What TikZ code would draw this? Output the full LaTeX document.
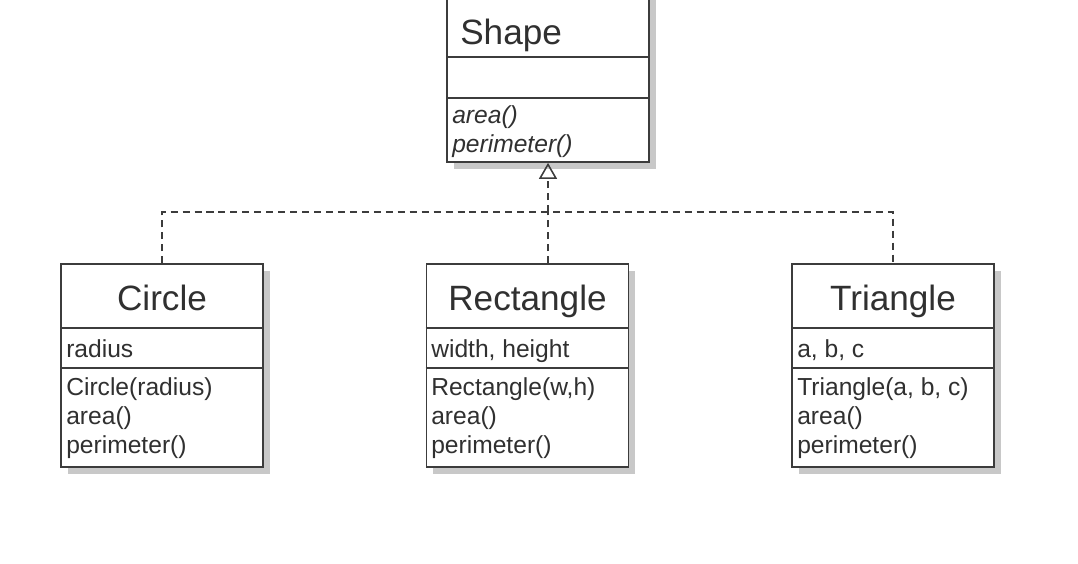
\documentclass[tikz,border=0pt]{standalone}
\usepackage{fontspec}
\setmainfont{Liberation Sans}
\usetikzlibrary{arrows.meta,shadows}
\definecolor{umlline}{HTML}{3C3C3C}
\definecolor{umltext}{HTML}{303030}
\definecolor{shadowgray}{HTML}{C8C8C8}

\begin{document}
\begin{tikzpicture}[x=0.025cm, y=-0.025cm,
    classbox/.style={rectangle, draw=umlline, line width=1.2pt, fill=white, minimum width=5.05cm, inner sep=0pt,
        drop shadow={shadow xshift=0.17cm, shadow yshift=-0.17cm, fill=shadowgray, opacity=1}},
    divider/.style={draw=umlline, line width=1.1pt},
    titletext/.style={font=\fontsize{25}{30}\selectfont, text=umltext, inner sep=0pt, anchor=base},
    membertext/.style={font=\fontsize{17.5}{21}\selectfont, text=umltext, inner sep=0pt, anchor=base west},
    realization/.style={draw=umlline, line width=1.1pt, dash pattern=on 5pt off 3.5pt}]
    \clip (0,0) rectangle (1078,564);
    \fill[white] (0,0) rectangle (1078,564);

    % interface
    \node[classbox, minimum height=4.25cm] (shape) at (548,77) {};
    \draw[divider] (shape.west |- 0,57) -- (shape.east |- 0,57);
    \draw[divider] (shape.west |- 0,98) -- (shape.east |- 0,98);
    \node[titletext, anchor=base west] (shapename) at (460,45) {Shape};
    \node[membertext, font=\fontsize{17.5}{21}\selectfont\itshape] (shapeop1) at (452,124) {area()};
    \node[membertext, font=\fontsize{17.5}{21}\selectfont\itshape] (shapeop2) at (452,153) {perimeter()};

    % classes
    \node[classbox, minimum height=5.075cm] (circ) at (162,365.5) {};
    \draw[divider] (circ.west |- 0,328) -- (circ.east |- 0,328);
    \draw[divider] (circ.west |- 0,368) -- (circ.east |- 0,368);
    \node[titletext] (circname) at (162,310) {Circle};
    \node[membertext] (circattr) at (66,357) {radius};
    \node[membertext] (circop1) at (66,395) {Circle(radius)};
    \node[membertext] (circop2) at (66,424) {area()};
    \node[membertext] (circop3) at (66,453) {perimeter()};

    \node[classbox, minimum height=5.075cm] (rect) at (527.5,365.5) {};
    \draw[divider] (rect.west |- 0,328) -- (rect.east |- 0,328);
    \draw[divider] (rect.west |- 0,368) -- (rect.east |- 0,368);
    \node[titletext] (rectname) at (527.5,310) {Rectangle};
    \node[membertext] (rectattr) at (431,357) {width, height};
    \node[membertext] (rectop1) at (431,395) {Rectangle(w,h)};
    \node[membertext] (rectop2) at (431,424) {area()};
    \node[membertext] (rectop3) at (431,453) {perimeter()};

    \node[classbox, minimum height=5.075cm] (tri) at (893,365.5) {};
    \draw[divider] (tri.west |- 0,328) -- (tri.east |- 0,328);
    \draw[divider] (tri.west |- 0,368) -- (tri.east |- 0,368);
    \node[titletext] (triname) at (893,310) {Triangle};
    \node[membertext] (triattr) at (797,357) {a, b, c};
    \node[membertext] (triop1) at (797,395) {Triangle(a, b, c)};
    \node[membertext] (triop2) at (797,424) {area()};
    \node[membertext] (triop3) at (797,453) {perimeter()};

    % realization
    \coordinate (bus) at (548,212);
    \draw[realization] (circ.north) |- (bus) -| (tri.north);
    \draw[realization] (rect.north -| bus) -- (bus);
    \draw[realization, -{Triangle[open, length=0.4cm, width=0.45cm, line width=1.1pt]}] (bus) -- (shape.south);
\end{tikzpicture}
\end{document}
